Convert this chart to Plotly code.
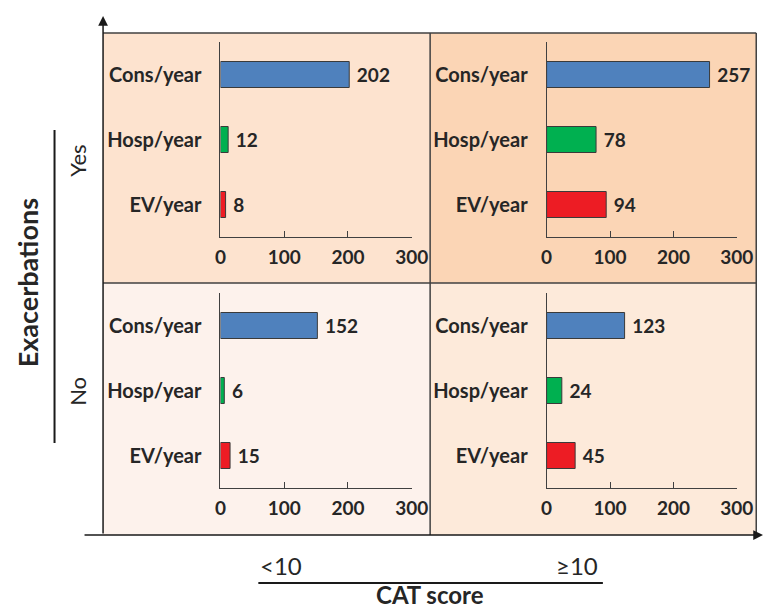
import plotly.graph_objects as go

W, H = 781, 610

categories = ["Cons/year", "Hosp/year", "EV/year"]
yes_lt10 = [202, 12, 8]
yes_ge10 = [257, 78, 94]
no_lt10 = [152, 6, 15]
no_ge10 = [123, 24, 45]
x_ticks = [0, 100, 200, 300]
bar_colors = ["#4F81BD", "#00B050", "#ED1C24"]

def px(x):
    return x / W

def py(y):
    return 1 - y / H

fig = go.Figure()

panels = [
    (yes_lt10, (221, 418), (42, 237)),
    (yes_ge10, (557, 753), (42, 237)),
    (no_lt10, (221, 418), (293, 488)),
    (no_ge10, (557, 753), (293, 488)),
]

FONT = "Lato"
TXT = "#262626"
LINE = "#404040"

layout_axes = {}
for i, (vals, (x0, x1), (y0, y1)) in enumerate(panels, start=1):
    xa = "x" if i == 1 else f"x{i}"
    ya = "y" if i == 1 else f"y{i}"
    fig.add_trace(go.Bar(
        x=vals, y=categories, orientation="h",
        marker=dict(color=bar_colors, line=dict(color="#3a3a3a", width=1)),
        text=[" " + str(v) for v in vals], textposition="outside",
        textfont=dict(family=FONT, size=19, color=TXT, weight="bold"),
        cliponaxis=False, xaxis=xa, yaxis=ya, showlegend=False,
    ))
    xk = "xaxis" if i == 1 else f"xaxis{i}"
    yk = "yaxis" if i == 1 else f"yaxis{i}"
    layout_axes[xk] = dict(
        domain=[px(x0), px(x1)], range=[0, 300], tickvals=x_ticks,
        showgrid=False, zeroline=False, showline=True, linecolor=LINE, linewidth=1,
        ticks="inside", ticklen=6, tickcolor=LINE, ticklabelstandoff=3,
        tickfont=dict(family=FONT, size=19, color=TXT, weight="bold"),
        anchor=ya, fixedrange=True,
    )
    layout_axes[yk] = dict(
        domain=[py(y1), py(y0)], categoryorder="array",
        categoryarray=categories[::-1],
        showgrid=False, zeroline=False, showline=True, linecolor=LINE, linewidth=1,
        ticks="", ticklabelstandoff=14,
        tickfont=dict(family=FONT, size=20, color=TXT, weight="bold"),
        anchor=xa, fixedrange=True,
    )

fig.update_layout(**layout_axes)

# quadrant backgrounds
BX0, BX1, BY0, BY1, MX, MY = 100, 773, 33, 535, 437, 283
quad_fill = [
    (BX0, MX, BY0, MY, "#FDE3CF"),
    (MX, BX1, BY0, MY, "#FBD5B5"),
    (BX0, MX, MY, BY1, "#FDF2EC"),
    (MX, BX1, MY, BY1, "#FDEADA"),
]
shapes = []
for x0, x1, y0, y1, c in quad_fill:
    shapes.append(dict(type="rect", xref="paper", yref="paper", x0=px(x0), x1=px(x1),
                       y0=py(y1), y1=py(y0), fillcolor=c, line=dict(width=0), layer="below"))
# frame and dividers
for (x0, y0, x1, y1) in [(BX0, BY0, BX1, BY0), (BX1, BY0, BX1, BY1), (MX, BY0, MX, BY1), (BX0, MY, BX1, MY)]:
    shapes.append(dict(type="line", xref="paper", yref="paper", x0=px(x0), x1=px(x1),
                       y0=py(y0), y1=py(y1), line=dict(color=LINE, width=1.5)))
# label bars
shapes.append(dict(type="line", xref="paper", yref="paper", x0=px(50), x1=px(50), y0=py(130), y1=py(443), line=dict(color="#1a1a1a", width=2)))
shapes.append(dict(type="line", xref="paper", yref="paper", x0=px(260), x1=px(615), y0=py(583), y1=py(583), line=dict(color="#1a1a1a", width=2)))
fig.update_layout(shapes=shapes)

TOP_TIP = 16
RIGHT_TIP = 780
annotations = [
    dict(xref="paper", yref="paper", x=px(BX0), y=py(TOP_TIP), ax=0, ay=BY1 - TOP_TIP,
         axref="pixel", ayref="pixel", showarrow=True, arrowhead=2, arrowsize=1.3,
         arrowwidth=1.5, arrowcolor="#1a1a1a", text=""),
    dict(xref="paper", yref="paper", x=px(RIGHT_TIP), y=py(BY1), ax=-(RIGHT_TIP - BX0), ay=0,
         axref="pixel", ayref="pixel", showarrow=True, arrowhead=2, arrowsize=1.3,
         arrowwidth=1.5, arrowcolor="#1a1a1a", text=""),
]
labels = [
    (22, 283, "Exacerbations", -90, 27, "bold"),
    (73, 161, "Yes", -90, 22, "normal"),
    (73, 391, "No", -90, 22, "normal"),
    (283, 565, "<10", 0, 24, "normal"),
    (588, 565, "≥10", 0, 24, "normal"),
    (437, 594, "CAT score", 0, 24, "bold"),
]
for x, y, t, ang, sz, wt in labels:
    annotations.append(dict(xref="paper", yref="paper", x=px(x), y=py(y), text=t, textangle=ang,
                            xanchor="center", yanchor="middle", showarrow=False,
                            font=dict(family=FONT, size=sz, color=TXT, weight=wt)))
fig.update_layout(annotations=annotations)

fig.update_layout(
    width=W, height=H, margin=dict(l=0, r=0, t=0, b=0),
    paper_bgcolor="white", plot_bgcolor="rgba(0,0,0,0)",
    bargap=0.6, showlegend=False,
)

fig.write_html("out.html", config={"displayModeBar": False},
               post_script="document.body.style.margin='0';")
